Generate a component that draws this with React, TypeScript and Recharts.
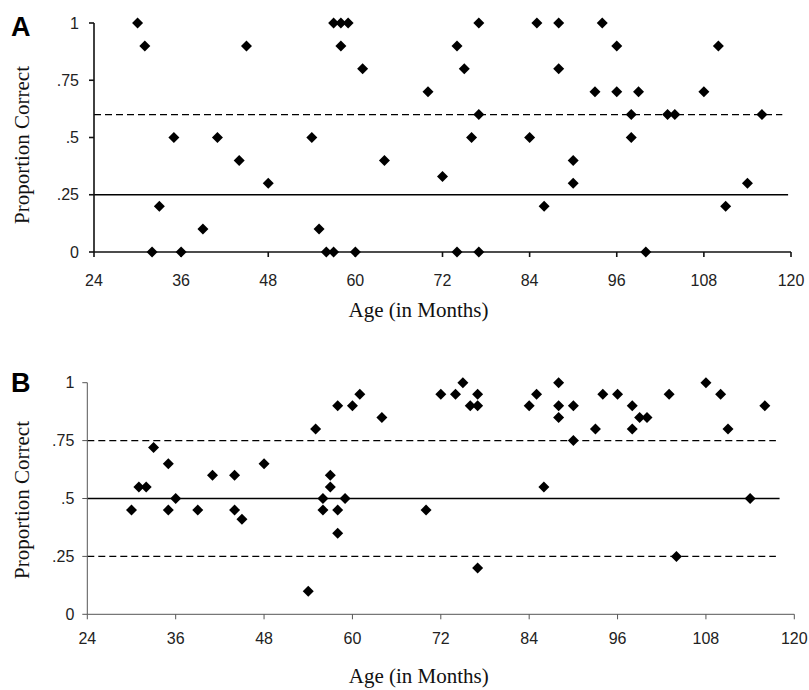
import { ScatterChart, Scatter, XAxis, YAxis, ReferenceLine } from 'recharts';

// Panel A: age in months and proportion correct per child
const ageA = [
  30, 31, 32, 33, 35, 36, 39, 41, 44, 45, 48, 54, 55, 56, 57, 57, 58, 59, 58, 60, 61, 64,
  70, 72, 74, 74, 75, 76, 77, 77, 77, 84, 85, 86, 88, 88, 90, 90, 93, 94, 96, 96, 98, 98,
  99, 100, 103, 104, 108, 110, 111, 114, 116,
];
const propA = [
  1, 0.9, 0, 0.2, 0.5, 0, 0.1, 0.5, 0.4, 0.9, 0.3, 0.5, 0.1, 0, 0, 1, 1, 1, 0.9, 0, 0.8, 0.4,
  0.7, 0.33, 0.9, 0, 0.8, 0.5, 1, 0.6, 0, 0.5, 1, 0.2, 1, 0.8, 0.4, 0.3, 0.7, 1, 0.9, 0.7, 0.6, 0.5,
  0.7, 0, 0.6, 0.6, 0.7, 0.9, 0.2, 0.3, 0.6,
];

// Panel B
const ageB = [
  30, 31, 32, 33, 35, 35, 36, 39, 41, 44, 44, 45, 48, 54, 55, 56, 56, 57, 57, 58, 58, 58, 59, 60, 61, 64,
  70, 72, 74, 75, 76, 77, 77, 77, 84, 85, 86, 88, 88, 88, 90, 90, 93, 94, 96, 98, 98, 99, 100, 103,
  104, 108, 110, 111, 114, 116,
];
const propB = [
  0.45, 0.55, 0.55, 0.72, 0.65, 0.45, 0.5, 0.45, 0.6, 0.6, 0.45, 0.41, 0.65, 0.1, 0.8, 0.5, 0.45, 0.6, 0.55, 0.9, 0.45, 0.35, 0.5, 0.9, 0.95, 0.85,
  0.45, 0.95, 0.95, 1, 0.9, 0.95, 0.9, 0.2, 0.9, 0.95, 0.55, 1, 0.9, 0.85, 0.9, 0.75, 0.8, 0.95, 0.95, 0.9, 0.8, 0.85, 0.85, 0.95,
  0.25, 1, 0.95, 0.8, 0.5, 0.9,
];

const ageTicks = [24, 36, 48, 60, 72, 84, 96, 108, 120];
const propTicks = [0, 0.25, 0.5, 0.75, 1];
const propTickLabels = ['0', '.25', '.5', '.75', '1'];

// reference levels (solid = chance, dashed = criterion)
const solidA = [0.25];
const dashedA = [0.6];
const solidB = [0.5];
const dashedB = [0.25, 0.75];

const sans = '"Liberation Sans", Arial, sans-serif';
const serif = '"Liberation Serif", "Times New Roman", serif';

const Diamond = (props: any) => {
  const { cx, cy } = props;
  const r = 5.5;
  return <path d={`M${cx},${cy - r}L${cx + r},${cy}L${cx},${cy + r}L${cx - r},${cy}Z`} fill="#000" />;
};

const yTitle = (cy: number) => ({
  content: () => (
    <text
      x={22}
      y={cy}
      transform={`rotate(-90 22 ${cy})`}
      textAnchor="middle"
      dominantBaseline="central"
      fontFamily={serif}
      fontSize={21}
      fill="#111"
    >
      Proportion Correct
    </text>
  ),
});

interface PanelProps {
  ages: number[];
  props: number[];
  solid: number[];
  dashed: number[];
  solidEnd: number;
  dashedEnd: number;
  height: number;
  margin: { top: number; right: number; bottom: number; left: number };
  yAxisWidth: number;
  axisColor: string;
  axisWidth: number;
  xTickMargin: number;
  yTickMargin: number;
  titleOffset: number;
  titleDx: number;
  yTitleCenter: number;
}

function Panel(p: PanelProps) {
  const data = p.ages.map((age, i) => ({ age, prop: p.props[i] }));
  const axisStroke = { stroke: p.axisColor, strokeWidth: p.axisWidth };
  const tickStyle = { fontFamily: sans, fontSize: 16, fill: '#222' };
  return (
    <ScatterChart width={809} height={p.height} margin={p.margin}>
      <XAxis
        type="number"
        dataKey="age"
        domain={[24, 120]}
        ticks={ageTicks}
        interval={0}
        axisLine={axisStroke}
        tickLine={axisStroke}
        tickSize={5}
        tickMargin={p.xTickMargin}
        tick={tickStyle}
        height={70}
        label={{
          value: 'Age (in Months)',
          position: 'insideBottom',
          offset: p.titleOffset,
          dx: p.titleDx,
          fontFamily: serif,
          fontSize: 21,
          fill: '#111',
        }}
      />
      <YAxis
        type="number"
        dataKey="prop"
        domain={[0, 1]}
        ticks={propTicks}
        interval={0}
        tickFormatter={(v: number) => propTickLabels[propTicks.indexOf(v)]}
        axisLine={axisStroke}
        tickLine={axisStroke}
        tickSize={5}
        tickMargin={p.yTickMargin}
        tick={tickStyle}
        width={p.yAxisWidth}
        label={yTitle(p.yTitleCenter)}
      />
      {p.solid.map((v) => (
        <ReferenceLine
          key={`s-${v}`}
          segment={[{ x: 24, y: v }, { x: p.solidEnd, y: v }]}
          stroke="#000"
          strokeWidth={1.4}
        />
      ))}
      {p.dashed.map((v) => (
        <ReferenceLine
          key={`d-${v}`}
          segment={[{ x: 24, y: v }, { x: p.dashedEnd, y: v }]}
          stroke="#000"
          strokeWidth={1.4}
          strokeDasharray="7 4"
        />
      ))}
      <Scatter data={data} shape={Diamond} isAnimationActive={false} />
    </ScatterChart>
  );
}

const panelLetter = (top: number): React.CSSProperties => ({
  position: 'absolute',
  left: 11,
  top,
  fontFamily: sans,
  fontWeight: 'bold',
  fontSize: 27,
  lineHeight: 1,
  color: '#000',
});

export default function App() {
  return (
    <div style={{ position: 'absolute', left: 0, top: 0, width: 809, height: 690, background: '#fff', overflow: 'hidden' }}>
      <div style={{ position: 'absolute', left: 0, top: 0 }}>
        <Panel
          ages={ageA}
          props={propA}
          solid={solidA}
          dashed={dashedA}
          solidEnd={119.6}
          dashedEnd={118.8}
          height={340}
          margin={{ top: 23, right: 18, bottom: 18, left: 0 }}
          yAxisWidth={94}
          axisColor="#111"
          axisWidth={1.6}
          xTickMargin={18}
          yTickMargin={10}
          titleOffset={5}
          titleDx={-24}
          yTitleCenter={145}
        />
      </div>
      <div style={{ position: 'absolute', left: 0, top: 340 }}>
        <Panel
          ages={ageB}
          props={propB}
          solid={solidB}
          dashed={dashedB}
          solidEnd={118}
          dashedEnd={117.5}
          height={350}
          margin={{ top: 42.7, right: 14.7, bottom: 5.7, left: 0 }}
          yAxisWidth={87.3}
          axisColor="#555"
          axisWidth={1}
          xTickMargin={13}
          yTickMargin={8}
          titleOffset={1}
          titleDx={-22}
          yTitleCenter={160}
        />
      </div>
      <div style={panelLetter(14)}>A</div>
      <div style={panelLetter(370)}>B</div>
    </div>
  );
}
